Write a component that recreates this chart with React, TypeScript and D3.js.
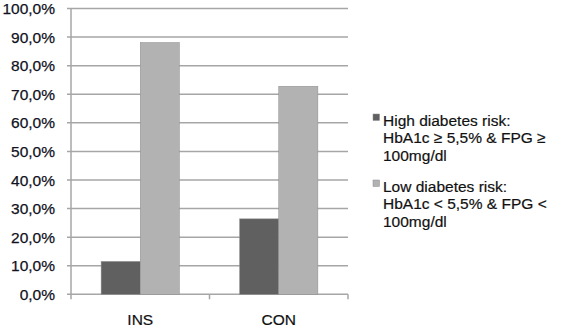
import React from "react";
import * as d3 from "d3";

const categories = ["INS", "CON"];
const highRisk = [11.5, 26.4];
const lowRisk = [88.1, 72.8];
const yTicks = [0, 10, 20, 30, 40, 50, 60, 70, 80, 90, 100];
const seriesNames = ["High", "Low"];
const legendLines = [
  ["High diabetes risk:", "HbA1c \u2265 5,5% & FPG \u2265", "100mg/dl"],
  ["Low diabetes risk:", "HbA1c < 5,5% & FPG <", "100mg/dl"],
];
const colors = ["#606060", "#b2b2b2"];

export default function App() {
  const W = 561, H = 329;
  const left = 71, right = 348, top = 8.5, bottom = 294.3;
  const y = d3.scaleLinear().domain([0, 100]).range([bottom, top]);
  const x0 = d3.scaleBand().domain(categories).range([left, right]).paddingInner(0.435).paddingOuter(0.2175);
  const x1 = d3.scaleBand().domain(seriesNames).range([0, x0.bandwidth()]);
  const series = [highRisk, lowRisk];
  const fmt = (v: number) => v.toFixed(1).replace(".", ",") + "%";
  const catW = (right - left) / categories.length;
  const font = "'Liberation Sans', Arial, sans-serif";
  const fs = 15.5;
  return (
    <svg width={W} height={H} style={{ position: "absolute", left: 0, top: 0 }}>
      <rect width={W} height={H} fill="#fff" />
      {yTicks.map((t) => (
        <g key={t}>
          <line x1={left - 4} x2={right} y1={y(t)} y2={y(t)} stroke="#a6a6a6" strokeWidth={1.5} />
          <text x={55} y={y(t)} dy="0.36em" textAnchor="end" fontFamily={font} fontSize={fs} fill="#111122" stroke="#111122" strokeWidth={0.25}>
            {fmt(t)}
          </text>
        </g>
      ))}
      <line x1={left} x2={left} y1={top} y2={bottom} stroke="#a6a6a6" strokeWidth={1.5} />
      {d3.range(categories.length + 1).map((i) => (
        <line key={i} x1={left + i * catW} x2={left + i * catW} y1={bottom} y2={bottom + 5} stroke="#a6a6a6" strokeWidth={1.5} />
      ))}
      {categories.map((c, ci) => (
        <g key={c}>
          {series.map((s, si) => (
            <rect
              key={si}
              x={(x0(c) as number) + (x1(seriesNames[si]) as number)}
              y={y(s[ci])}
              width={x1.bandwidth()}
              height={bottom - y(s[ci])}
              fill={colors[si]}
              stroke="#8c8c8c"
              strokeWidth={0.5}
            />
          ))}
          <text x={(x0(c) as number) + x0.bandwidth() / 2} y={325} textAnchor="middle" fontFamily={font} fontSize={fs} fill="#111" stroke="#111" strokeWidth={0.2}>
            {c}
          </text>
        </g>
      ))}
      {legendLines.map((lines, li) => (
        <g key={li}>
          <rect x={373} y={114 + li * 66} width={6.5} height={6.5} fill={colors[li]} stroke="#8c8c8c" strokeWidth={0.5} />
          {lines.map((l, k) => (
            <text key={k} x={383} y={125.5 + li * 66 + k * 17.7} fontFamily={font} fontSize={fs} fill="#111" stroke="#111" strokeWidth={0.2}>
              {l}
            </text>
          ))}
        </g>
      ))}
    </svg>
  );
}
